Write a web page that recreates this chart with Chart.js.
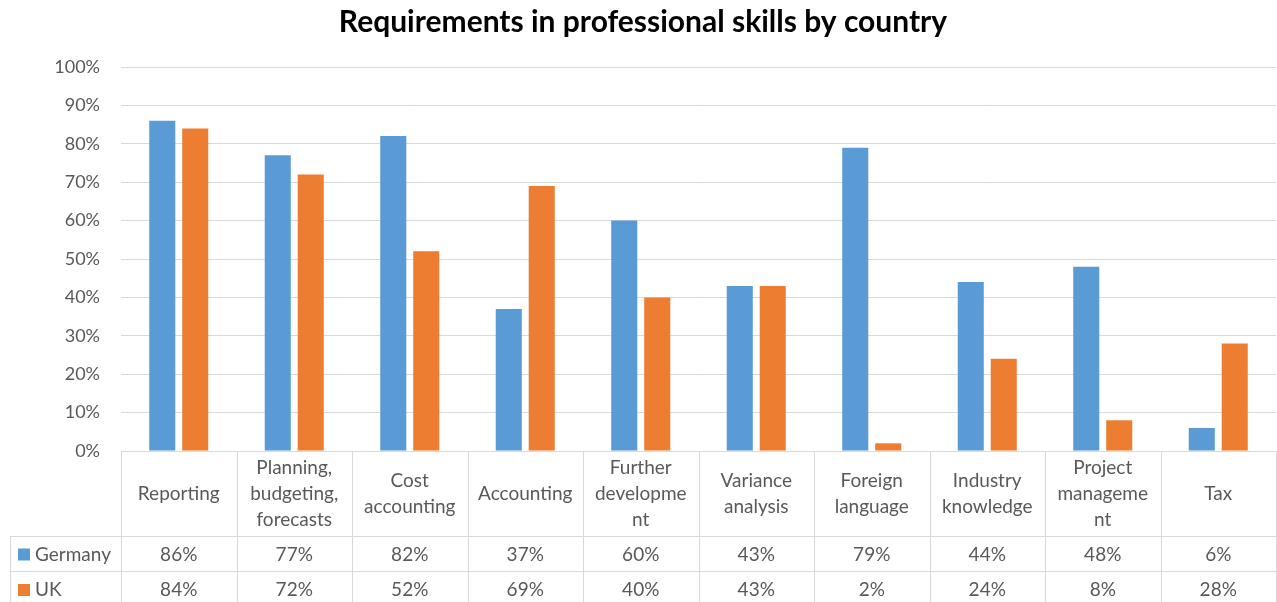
<!DOCTYPE html>
<html>
<head>
<meta charset="utf-8">
<script src="https://cdn.jsdelivr.net/npm/chart.js@4/dist/chart.umd.min.js"></script>
<style>
  html, body { margin: 0; padding: 0; background: #fff; }
  #wrap { width: 1277px; height: 602px; position: relative; }
</style>
</head>
<body>
<div id="wrap"><canvas id="skills"></canvas></div>
<script>
// Skills asked for in job ads, share of postings per country
const categories = [
  'Reporting',
  ['Planning,', 'budgeting,', 'forecasts'],
  ['Cost', 'accounting'],
  'Accounting',
  ['Further', 'developme', 'nt'],
  ['Variance', 'analysis'],
  ['Foreign', 'language'],
  ['Industry', 'knowledge'],
  ['Project', 'manageme', 'nt'],
  'Tax'
];
const germany = [86, 77, 82, 37, 60, 43, 79, 44, 48, 6];
const uk = [84, 72, 52, 69, 40, 43, 2, 24, 8, 28];
const yTicks = [0, 10, 20, 30, 40, 50, 60, 70, 80, 90, 100];

const BLUE = '#5b9bd5';
const ORANGE = '#ed7d31';
const TEXT = '#595959';
const LINE = '#d9d9d9';
const FONT = 'Lato, "Open Sans", sans-serif';

// data table under the plot: category row + one row per series
const dataTable = {
  id: 'dataTable',
  afterDraw(chart) {
    const { ctx, chartArea, scales } = chart;
    const x = scales.x;
    const top = chartArea.bottom;
    const rowCat = top + 85;
    const rowDe = rowCat + 35;
    const bottom = rowDe + 36;
    const legendLeft = 10;
    const step = x.getPixelForValue(1) - x.getPixelForValue(0);

    ctx.save();
    ctx.strokeStyle = LINE;
    ctx.lineWidth = 1;
    ctx.beginPath();
    // horizontal rules
    ctx.moveTo(chartArea.left, top + 0.5); ctx.lineTo(chartArea.right, top + 0.5);
    ctx.moveTo(legendLeft, rowCat + 0.5); ctx.lineTo(chartArea.right, rowCat + 0.5);
    ctx.moveTo(legendLeft, rowDe + 0.5); ctx.lineTo(chartArea.right, rowDe + 0.5);
    ctx.moveTo(legendLeft, bottom + 0.5); ctx.lineTo(chartArea.right, bottom + 0.5);
    // vertical rules
    ctx.moveTo(legendLeft + 0.5, rowCat); ctx.lineTo(legendLeft + 0.5, bottom);
    for (let i = 0; i <= categories.length; i++) {
      const px = Math.round(x.getPixelForValue(i) - step / 2) + 0.5;
      ctx.moveTo(px, top); ctx.lineTo(px, bottom);
    }
    ctx.stroke();

    ctx.fillStyle = TEXT;
    ctx.font = '19px ' + FONT;
    ctx.textAlign = 'center';
    ctx.textBaseline = 'middle';
    const catMid = (top + rowCat) / 2;
    const deMid = (rowCat + rowDe) / 2 + 1;
    const ukMid = (rowDe + bottom) / 2 + 1;
    categories.forEach((c, i) => {
      const cx = x.getPixelForValue(i);
      const lines = Array.isArray(c) ? c : [c];
      const lh = 26;
      lines.forEach((l, j) => {
        ctx.fillText(l, cx, catMid + (j - (lines.length - 1) / 2) * lh);
      });
      ctx.fillText(germany[i] + '%', cx, deMid);
      ctx.fillText(uk[i] + '%', cx, ukMid);
    });

    // series keys
    ctx.textAlign = 'left';
    ctx.fillStyle = BLUE;
    ctx.fillRect(18, deMid - 6, 12, 12);
    ctx.fillStyle = ORANGE;
    ctx.fillRect(18, ukMid - 6, 12, 12);
    ctx.fillStyle = TEXT;
    ctx.fillText('Germany', 35, deMid);
    ctx.fillText('UK', 35, ukMid);
    ctx.restore();
  }
};

new Chart(document.getElementById('skills'), {
  type: 'bar',
  data: {
    labels: categories,
    datasets: [
      { label: 'Germany', data: germany, backgroundColor: BLUE },
      { label: 'UK', data: uk, backgroundColor: ORANGE }
    ]
  },
  options: {
    responsive: true,
    maintainAspectRatio: false,
    animation: false,
    layout: { padding: { top: 0, left: 10, right: 1, bottom: 151 } },
    datasets: { bar: { categoryPercentage: 0.571, barPercentage: 0.79 } },
    plugins: {
      legend: { display: false },
      tooltip: { enabled: false },
      title: {
        display: true,
        text: 'Requirements in professional skills by country',
        color: '#000',
        font: { family: FONT, size: 30, weight: 'bold' },
        padding: { top: 4, bottom: 27 }
      }
    },
    scales: {
      x: { display: false },
      y: {
        min: 0,
        max: 100,
        afterFit: s => { s.width = 111; },
        afterBuildTicks: s => { s.ticks = yTicks.map(v => ({ value: v })); },
        border: { display: false },
        grid: { color: LINE, drawTicks: false },
        ticks: {
          padding: 21,
          color: TEXT,
          font: { family: FONT, size: 18 },
          callback: v => v + '%'
        }
      }
    }
  },
  plugins: [dataTable]
});
</script>
</body>
</html>
